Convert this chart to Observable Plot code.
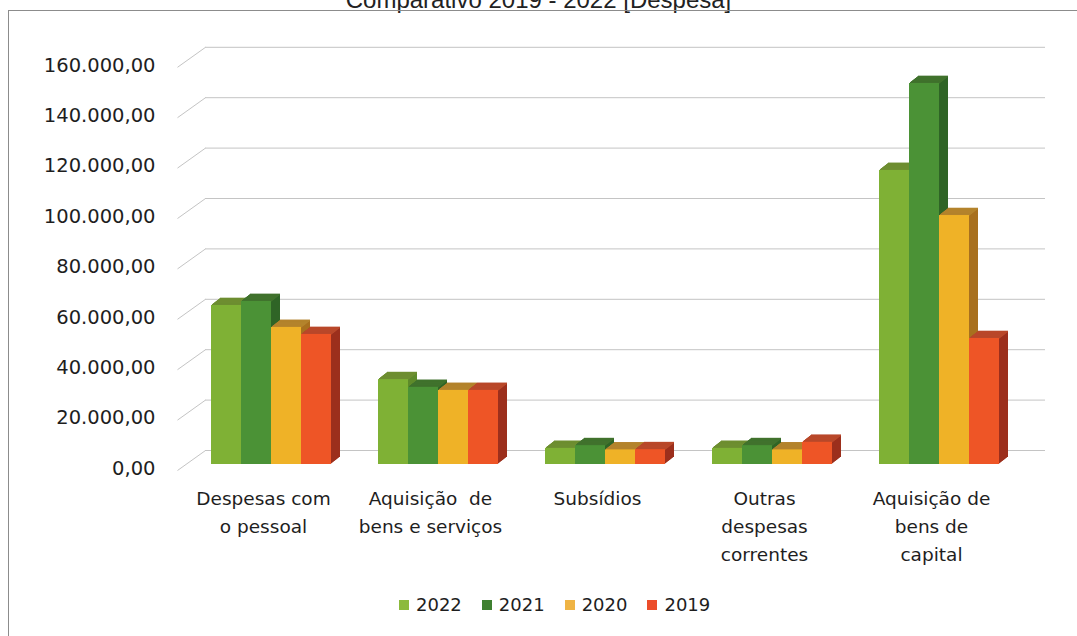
<!DOCTYPE html>
<html>
<head>
<meta charset="utf-8">
<script src="https://cdn.jsdelivr.net/npm/d3@7"></script>
<script src="https://cdn.jsdelivr.net/npm/@observablehq/plot@0.6"></script>
<style>
  body { margin: 0; background: #fff; }
  #wrap { position: relative; width: 1077px; height: 636px; overflow: hidden; background: #fff; font-family: "DejaVu Sans", sans-serif; }
  #title { position: absolute; left: 0; top: -12px; width: 1077px; text-align: center; font-family: "Liberation Sans", Arial, sans-serif; font-size: 24px; line-height: 24px; color: #222; white-space: pre; }
  #frameTop { position: absolute; left: 8px; top: 10px; width: 1069px; height: 0; border-top: 1px solid #8c8c8c; }
  #frameLeft { position: absolute; left: 8px; top: 10px; width: 0; height: 626px; border-left: 1px solid #8c8c8c; }
  #bg, #fg { position: absolute; left: 0; top: 0; }
  #legend { position: absolute; left: 399px; top: 594px; display: flex; align-items: center; font-family: "DejaVu Sans", sans-serif; font-size: 18px; color: #1e1e1e; }
  .item { display: flex; align-items: center; margin-right: 20px; }
  .sw { width: 10px; height: 10px; margin-right: 7px; }
</style>
</head>
<body>
<div id="wrap">
  <div id="title"></div>
  <div id="frameTop"></div>
  <div id="frameLeft"></div>
  <div id="bg"></div>
  <div id="fg"></div>
  <div id="legend"></div>
</div>
<script>
// ---------- data ----------
const titleText = "Comparativo 2019 - 2022 [Despesa]";
const categories = [
  "Despesas com o pessoal",
  "Aquisição de bens e serviços",
  "Subsídios",
  "Outras despesas correntes",
  "Aquisição de bens de capital"
];
const categoryLabels = [
  "Despesas com\no pessoal",
  "Aquisição  de\nbens e serviços",
  "Subsídios",
  "Outras\ndespesas\ncorrentes",
  "Aquisição de\nbens de\ncapital"
];
const years = ["2022", "2021", "2020", "2019"];
const values2022 = [63100, 33700, 6400, 6400, 116700];
const values2021 = [64700, 30600, 7500, 7500, 151200];
const values2020 = [54400, 29400, 5800, 5800, 98800];
const values2019 = [51600, 29400, 5900, 8800, 50000];
const yTicks = [0, 20000, 40000, 60000, 80000, 100000, 120000, 140000, 160000];

// ---------- styles ----------
const frontColors = ["#7fb135", "#4b9236", "#efb227", "#ee5526"];
const topColors   = ["#6e8e31", "#40722d", "#b4832c", "#b9482a"];
const sideColors  = ["#5e8a2a", "#2f6426", "#a8701e", "#9c2f1c"];
const legendColors = ["#8cba3c", "#3f8030", "#efb445", "#ec4d2a"];

const series = [values2022, values2021, values2020, values2019];
const data = categories.flatMap((c, i) => years.map((y, j) => ({category: c, year: y, value: series[j][i]})));
const labelOf = new Map(categories.map((c, i) => [c, categoryLabels[i]]));

const locale = d3.formatLocale({decimal: ",", thousands: ".", grouping: [3], currency: ["", ""]});
const fmt = locale.format(",.2f");

document.getElementById("title").textContent = titleText;

const W = 1077, H = 590, MT = 60.8, MB = 126;

// back wall + y axis
const wallStart = 28 / 868;
const depthUnits = 20 * 160000 / (H - MB - MT);
const bg = Plot.plot({
  width: W, height: H, marginTop: MT, marginBottom: MB, marginLeft: 177, marginRight: 32,
  x: {domain: [0, 1], axis: null},
  y: {domain: [0, 160000], axis: null},
  style: {background: "transparent", fontFamily: "DejaVu Sans, sans-serif", color: "#1e1e1e"},
  marks: [
    Plot.ruleY(yTicks, {y: d => d, x1: wallStart, x2: 1, dy: -14, stroke: "#c4c4c4", strokeWidth: 1}),
    Plot.link(yTicks, {x1: 0, x2: wallStart, y1: d => d, y2: d => d + depthUnits, dy: 6, stroke: "#c4c4c4", strokeWidth: 1}),
    Plot.axisY(yTicks, {tickSize: 0, tickPadding: 22, tickFormat: fmt, dy: 4, fontSize: 19.5, fill: "#1e1e1e"})
  ]
});
document.getElementById("bg").appendChild(bg);

// 3D-ish bars
const steps = 9, depthX = 9, depthY = 7;
const marks = [];
years.forEach((yr, j) => {
  const sub = data.filter(d => d.year === yr);
  for (let k = steps; k >= 1; k--) {
    marks.push(Plot.barY(sub, {fx: "category", x: "year", y: "value", fill: sideColors[j], dx: k * depthX / steps, dy: -k * depthY / steps}));
  }
  for (let k = steps; k >= 1; k--) {
    marks.push(Plot.tickY(sub, {fx: "category", x: "year", y: "value", stroke: topColors[j], strokeWidth: 1.6, dx: k * depthX / steps, dy: -k * depthY / steps}));
  }
  marks.push(Plot.barY(sub, {fx: "category", x: "year", y: "value", fill: frontColors[j]}));
});
marks.push(Plot.axisFx({
  anchor: "bottom",
  tickSize: 0, tickPadding: 21, dx: -8,
  tickFormat: c => labelOf.get(c),
  fontSize: 18.5, lineHeight: 1.51, fill: "#1e1e1e", label: null
}));

const fg = Plot.plot({
  width: W, height: H, marginTop: MT, marginBottom: MB, marginLeft: 163, marginRight: 30,
  fx: {domain: categories, paddingInner: 0.27, paddingOuter: 0.27, label: null},
  x: {domain: years, padding: 0, axis: null},
  y: {domain: [0, 160000], axis: null},
  style: {background: "transparent", fontFamily: "DejaVu Sans, sans-serif", color: "#1e1e1e"},
  marks
});
document.getElementById("fg").appendChild(fg);

// legend
const legend = document.getElementById("legend");
years.forEach((y, j) => {
  const it = document.createElement("div");
  it.className = "item";
  const sw = document.createElement("div");
  sw.className = "sw";
  sw.style.background = legendColors[j];
  const t = document.createElement("span");
  t.textContent = y;
  it.appendChild(sw); it.appendChild(t);
  legend.appendChild(it);
});
</script>
</body>
</html>
